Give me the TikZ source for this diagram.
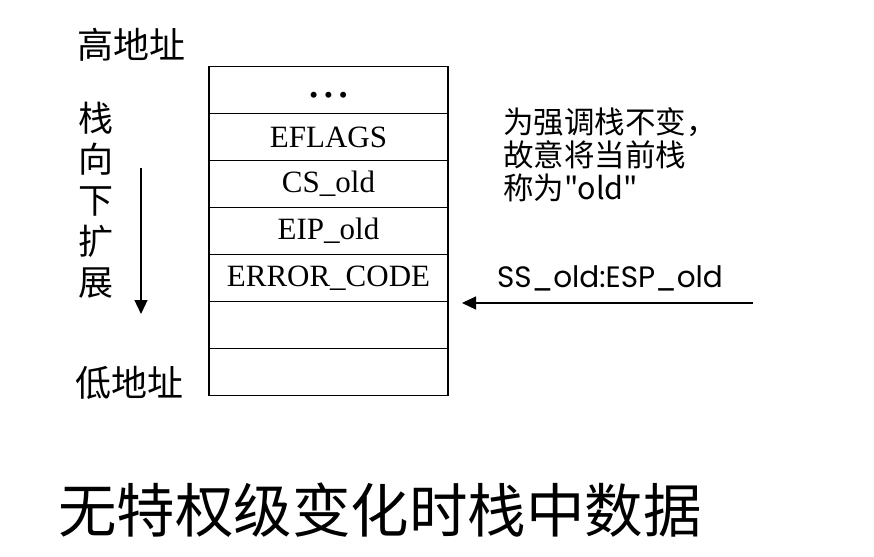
\documentclass[tikz,border=0pt]{standalone}
\usepackage{fontspec}
\setmainfont{Liberation Serif}
\newfontfamily\cjk{Noto Sans CJK SC}
\newfontfamily\gothic{Poppins}
\usetikzlibrary{positioning,arrows.meta}
\begin{document}
\begin{tikzpicture}[x=1pt, y=-1pt,
	cell/.style={draw, line width=1.2pt, minimum width=239pt, minimum height=47pt, inner sep=0pt, outer sep=0pt, font=\fontsize{31}{31}\selectfont},
	lbl/.style={font=\cjk\fontsize{36}{36}\selectfont, inner sep=0pt},
	tip/.style={-{Triangle[length=14pt, width=13pt]}, line width=1.2pt}]
	\useasboundingbox (0,0) rectangle (874,556);
	\node[cell] (dots) at (328.5,90) {};
	\node[inner sep=0pt, font=\fontsize{25}{25}\selectfont] (dotmark) at ([yshift=-8pt]dots.center) {•\hspace{6pt}•\hspace{6pt}•};
	\node[cell, below=0pt of dots] (eflags) {EFLAGS};
	\node[cell, below=0pt of eflags] (cs) {CS\_old};
	\node[cell, below=0pt of cs] (eip) {EIP\_old};
	\node[cell, below=0pt of eip] (err) {ERROR\_CODE};
	\node[cell, below=0pt of err] (free1) {};
	\node[cell, below=0pt of free1] (free2) {};
	
	\node[lbl] (high) at (131,45) {高地址};
	\node[lbl] (low) at (129,383) {低地址};
	\node[lbl, align=center, font=\cjk\fontsize{35}{41}\selectfont] (grow) at (96,200) {栈\\向\\下\\扩\\展};
	\coordinate (gtop) at (141,168);
	\coordinate (gend) at (141,314);
	\draw[tip] (gtop) -- (gend);
	
	\node[lbl, anchor=north west, align=left, font=\cjk\fontsize{30.5}{33}\selectfont] (note) at (503,107) {为强调栈不变，\\故意将当前栈\\称为"old"};
	\node[inner sep=0pt, font=\gothic\fontsize{29.5}{29.5}\selectfont] (sp) at (610,278) {SS\_old:ESP\_old};
	\coordinate (spfrom) at (753,303);
	\coordinate (sptip) at (462,303);
	\draw[tip] (spfrom) -- (sptip);
	
	\node[lbl, font=\cjk\fontsize{58.5}{58.5}\selectfont] (title) at (380,510) {无特权级变化时栈中数据};
\end{tikzpicture}
\end{document}
